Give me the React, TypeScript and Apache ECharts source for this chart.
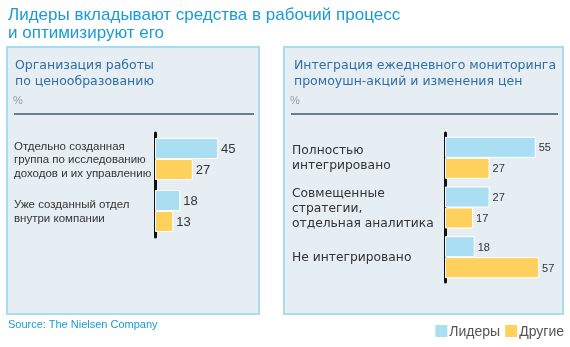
import React, { useEffect, useRef } from "react";
import * as echarts from "echarts";

const titleLines = ["Лидеры вкладывают средства в рабочий процесс", "и оптимизируют его"];
const panelTitle1 = ["Организация работы", "по ценообразованию"];
const panelTitle2 = ["Интеграция ежедневного мониторинга", "промоушн-акций и изменения цен"];
const categories1 = [
  "Отдельно созданная\nгруппа по исследованию\nдоходов и их управлению",
  "Уже созданный отдел\nвнутри компании",
];
const leaders1 = [45, 18];
const others1 = [27, 13];
const categories2 = ["Полностью\nинтегрировано", "Совмещенные\nстратегии,\nотдельная аналитика", "Не интегрировано"];
const leaders2 = [55, 27, 18];
const others2 = [27, 17, 57];
const seriesNames = ["Лидеры", "Другие"];
const sourceText = "Source: The Nielsen Company";

const BLUE = "#a9def3";
const YELLOW = "#fdd15b";
const FONT = "Liberation Sans, Arial, sans-serif";
const FONT2 = "DejaVu Sans, Verdana, sans-serif";

export default function App() {
  const ref = useRef<HTMLDivElement>(null);
  useEffect(() => {
    const chart = echarts.init(ref.current!, null, { renderer: "svg" });
    const barBase = (name: string, color: string, xi: number, data: number[], fs: number) => ({
      type: "bar",
      name,
      xAxisIndex: xi,
      yAxisIndex: xi,
      data,
      barWidth: 21,
      barGap: "0%",
      itemStyle: { color, borderColor: "#ffffff", borderWidth: 1 },
      label: { show: true, position: "right", distance: 3, color: "#333", fontSize: fs, fontFamily: FONT },
    });
    const panel = (x: number, w: number) => ({
      type: "rect",
      shape: { x, y: 47, width: w, height: 267 },
      style: { fill: "#e7eef3", stroke: "#a8dcf0", lineWidth: 2 },
      z: -10,
    });
    const txt = (x: number, y: number, text: string, fs: number, color: string, font = FONT) => ({
      type: "text",
      x,
      y,
      style: { text, fontSize: fs, fill: color, fontFamily: font, textVerticalAlign: "middle" },
      z: 1,
    });
    chart.setOption({
      animation: false,
      legend: {
        data: seriesNames,
        right: 1,
        top: 318,
        itemWidth: 14,
        itemHeight: 14,
        itemGap: 3,
        icon: "rect",
        textStyle: { color: "#555", fontSize: 14, fontFamily: FONT, padding: [0, 0, 0, -4] },
      },
      grid: [
        { left: 155, top: 133, width: 98, height: 104 },
        { left: 445, top: 133, width: 99, height: 149 },
      ],
      xAxis: [
        { gridIndex: 0, type: "value", min: 0, max: 70, show: false },
        { gridIndex: 1, type: "value", min: 0, max: 60, show: false },
      ],
      yAxis: [
        {
          gridIndex: 0,
          type: "category",
          data: categories1,
          inverse: true,
          axisLine: { lineStyle: { color: "#111", width: 3 } },
          axisTick: { show: false },
          axisLabel: { align: "left", margin: 141, color: "#333", fontSize: 11.5, lineHeight: 13.5, fontFamily: FONT },
        },
        {
          gridIndex: 1,
          type: "category",
          data: categories2,
          inverse: true,
          axisLine: { lineStyle: { color: "#111", width: 3 } },
          axisTick: { show: false },
          axisLabel: { align: "left", margin: 153, color: "#333", fontSize: 12.3, lineHeight: 15, fontFamily: FONT2 },
        },
      ],
      graphic: [
        panel(7, 252),
        panel(284, 279),
        txt(8, 14, titleLines[0], 17, "#1a9ad6"),
        txt(8, 32, titleLines[1], 17, "#1a9ad6"),
        txt(15, 64, panelTitle1[0], 12.5, "#2e6ea6", FONT2),
        txt(15, 80, panelTitle1[1], 12.5, "#2e6ea6", FONT2),
        txt(294, 64, panelTitle2[0], 12.5, "#2e6ea6", FONT2),
        txt(294, 80, panelTitle2[1], 12.5, "#2e6ea6", FONT2),
        txt(13, 100, "%", 11, "#999"),
        txt(290, 100, "%", 11, "#999"),
        { type: "line", shape: { x1: 14, y1: 114, x2: 254, y2: 114 }, style: { stroke: "#627f96", lineWidth: 2 }, z: 1 },
        { type: "line", shape: { x1: 291, y1: 114, x2: 558, y2: 114 }, style: { stroke: "#627f96", lineWidth: 2 }, z: 1 },
        txt(8, 324, sourceText, 11, "#1a9ad6"),
      ],
      series: [
        barBase(seriesNames[0], BLUE, 0, leaders1, 13),
        barBase(seriesNames[1], YELLOW, 0, others1, 13),
        barBase(seriesNames[0], BLUE, 1, leaders2, 11),
        barBase(seriesNames[1], YELLOW, 1, others2, 11),
      ],
    });
    return () => chart.dispose();
  }, []);
  return <div ref={ref} style={{ position: "fixed", left: 0, top: 0, width: 570, height: 347 }} />;
}
